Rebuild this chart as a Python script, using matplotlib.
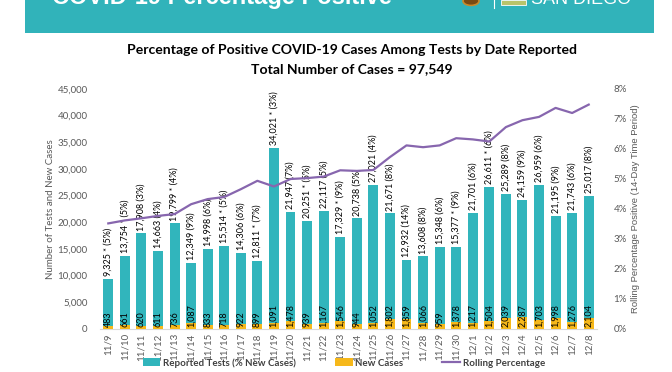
import numpy as np
import matplotlib
matplotlib.use("Agg")
import matplotlib.pyplot as plt
from matplotlib.patches import Patch, Rectangle, Circle
from matplotlib.lines import Line2D
from matplotlib.ticker import FuncFormatter

plt.rcParams['font.family'] = ['Lato', 'DejaVu Sans']

dates = ['11/9', '11/10', '11/11', '11/12', '11/13', '11/14', '11/15', '11/16', '11/17', '11/18',
         '11/19', '11/20', '11/21', '11/22', '11/23', '11/24', '11/25', '11/26', '11/27', '11/28',
         '11/29', '11/30', '12/1', '12/2', '12/3', '12/4', '12/5', '12/6', '12/7', '12/8']
tests = [9325, 13754, 17908, 14663, 19799, 12349, 14998, 15514, 14306, 12811,
         34021, 21947, 20251, 22117, 17329, 20738, 27021, 21671, 12932, 13608,
         15348, 15377, 21701, 26611, 25289, 24159, 26959, 21195, 21743, 25017]
pct_new = [5, 5, 3, 4, 4, 9, 6, 5, 6, 7,
           3, 7, 5, 5, 9, 5, 4, 8, 14, 8,
           6, 9, 6, 6, 8, 9, 6, 9, 6, 8]
starred = [1, 1, 0, 0, 1, 0, 0, 1, 0, 1,
           1, 0, 1, 0, 1, 0, 0, 0, 0, 0,
           0, 1, 0, 1, 0, 0, 0, 0, 0, 0]
new_cases = [483, 661, 620, 611, 736, 1087, 833, 718, 922, 899,
             1091, 1478, 939, 1167, 1546, 944, 1052, 1802, 1859, 1066,
             959, 1378, 1217, 1504, 2039, 2287, 1703, 1998, 1276, 2104]
rolling = [3.52, 3.62, 3.69, 3.77, 3.83, 4.16, 4.33, 4.40, 4.66, 4.94,
           4.75, 5.00, 5.03, 5.08, 5.29, 5.27, 5.30, 5.73, 6.12, 6.06,
           6.12, 6.36, 6.32, 6.25, 6.73, 6.96, 7.07, 7.37, 7.20, 7.48]

title1 = 'Percentage of Positive COVID-19 Cases Among Tests by Date Reported'
title2 = 'Total Number of Cases = 97,549'
banner_text = 'COVID-19 Percentage Positive'

TEAL = '#31B5BC'
ORANGE = '#F6B81A'
PURPLE = '#8766AE'
GRAY = '#595959'

W, H = 672, 372
fig = plt.figure(figsize=(W / 100, H / 100), dpi=100)
fig.patch.set_facecolor('white')

# header banner (its title is cut off at the top edge, as in the source image)
fig.patches.append(Rectangle((25 / W, 1 - 33 / H), 629 / W, 33 / H, transform=fig.transFigure,
                             facecolor='#31B3BA', edgecolor='none', zorder=0))
fig.text(52 / W, 1 - 4 / H, banner_text, color='white', fontsize=17, fontweight='bold',
         ha='left', va='baseline', family=['Liberation Sans', 'DejaVu Sans'])
fig.patches.append(Circle((471 / W, 1 - 1 / H), 8 / W, transform=fig.transFigure,
                          facecolor='#7A4A12', edgecolor='#C98A2A', lw=1.2, zorder=2))
fig.lines.append(Line2D([494 / W, 494 / W], [1, 1 - 8 / H], transform=fig.transFigure,
                        color='white', lw=0.8))
fig.patches.append(Rectangle((501 / W, 1 - 5 / H), 25 / W, 5 / H, transform=fig.transFigure,
                             facecolor='#B9C46A', edgecolor='white', lw=0.6, zorder=2))
fig.text(531 / W, 1 - 4 / H, 'SAN DIEGO', color='white', fontsize=13,
         ha='left', va='baseline', family=['Liberation Sans', 'DejaVu Sans'])

# titles
fig.text(352 / W, 1 - 50 / H, title1, ha='center', va='center', fontsize=10.1,
         fontweight='bold', color='black')
fig.text(352 / W, 1 - 69 / H, title2, ha='center', va='center', fontsize=10.1,
         fontweight='bold', color='black')

ax = fig.add_axes([100 / W, 43 / H, 497 / W, 240 / H])
x = np.arange(len(dates))
ax.bar(x, tests, width=0.6, color=TEAL, zorder=2)
ax.bar(x, new_cases, width=0.6, color=ORANGE, zorder=3)
ax.set_xlim(-0.5, len(dates) - 0.5)
ax.set_ylim(0, 45000)
ax.set_yticks(np.arange(0, 45001, 5000))
ax.yaxis.set_major_formatter(FuncFormatter(lambda v, p: f'{int(v):,}'))
ax.set_xticks(x)
ax.set_xticklabels(dates, rotation=90, fontsize=7, color=GRAY)
ax.tick_params(axis='y', labelsize=7, colors=GRAY, length=0, pad=9)
ax.tick_params(axis='x', length=0, pad=3)
for s in ['top', 'right', 'left']:
    ax.spines[s].set_visible(False)
ax.spines['bottom'].set_color('#D9D9D9')
ax.set_ylabel('Number of Tests and New Cases', fontsize=7, color=GRAY, labelpad=2)

for xi, t, p, st in zip(x, tests, pct_new, starred):
    lab = f'{t:,}' + (' * ' if st else ' ') + f'({p}%)'
    ax.annotate(lab, (xi, t), xytext=(0, 2), textcoords='offset points', rotation=90,
                ha='center', va='bottom', fontsize=6.5, color='black', zorder=5)
for xi, n in zip(x, new_cases):
    ax.annotate(f'{n:,}', (xi, 0), xytext=(0, 1.5), textcoords='offset points', rotation=90,
                ha='center', va='bottom', fontsize=6.5, color='black', zorder=5)

ax2 = ax.twinx()
ax2.plot(x, rolling, color=PURPLE, lw=1.6, zorder=4)
ax2.set_ylim(0, 8)
ax2.set_yticks(np.arange(0, 9, 1))
ax2.yaxis.set_major_formatter(FuncFormatter(lambda v, p: f'{int(v)}%'))
ax2.tick_params(axis='y', labelsize=7, colors=GRAY, length=0, pad=12)
for s in ax2.spines.values():
    s.set_visible(False)
ax2.set_ylabel('Rolling Percentage Positive (14-Day Time Period)', fontsize=6.8, color=GRAY,
               labelpad=3, family=['Liberation Sans', 'DejaVu Sans'])

handles = [Patch(facecolor=TEAL, edgecolor='none'),
           Patch(facecolor=ORANGE, edgecolor='none'),
           Line2D([], [], color=PURPLE, lw=1.6)]
labels = ['Reported Tests (% New Cases)', 'New Cases', 'Rolling Percentage']
leg = fig.legend(handles, labels, loc='center', bbox_to_anchor=(344 / W, 1 - 363 / H), ncol=3,
                 frameon=False, prop={'size': 7, 'weight': 'bold'}, handlelength=1.8,
                 handleheight=0.9, handletextpad=0.3, columnspacing=4.0)
for t in leg.get_texts():
    t.set_color('#404040')

fig.savefig('out.png', dpi=100)
